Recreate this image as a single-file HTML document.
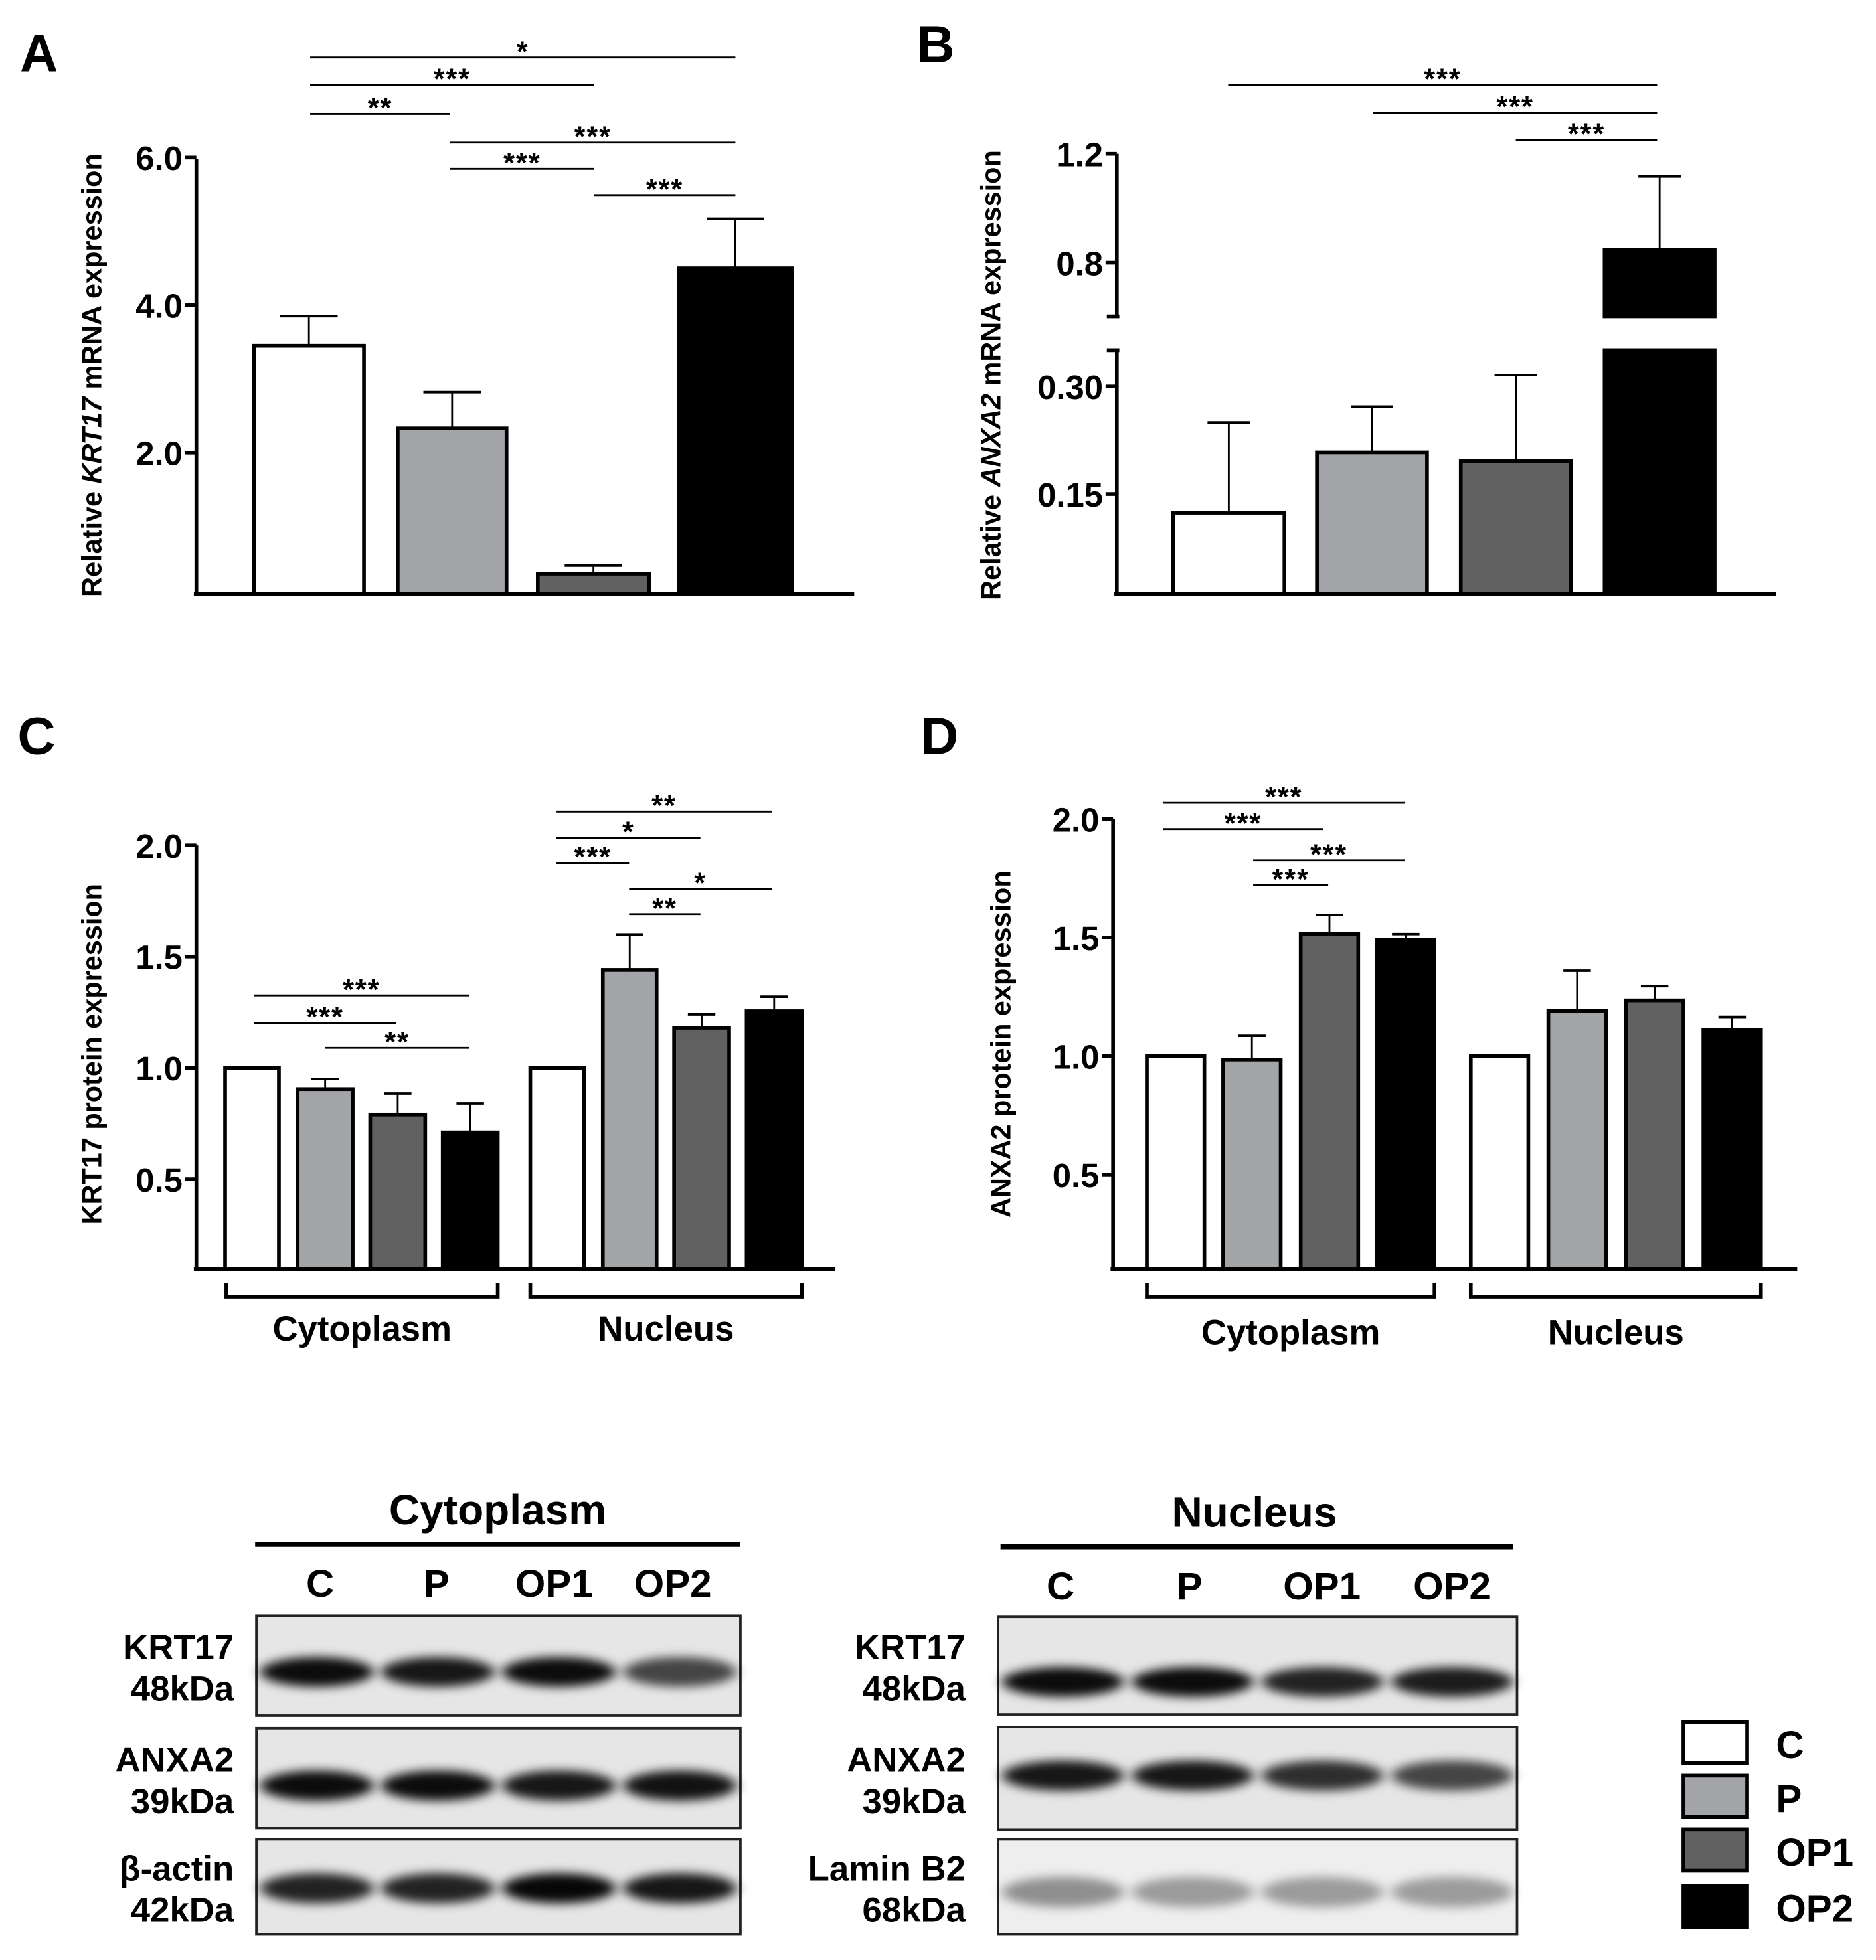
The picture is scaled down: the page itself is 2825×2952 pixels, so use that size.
<!DOCTYPE html>
<html><head><meta charset="utf-8"><style>
html,body{margin:0;padding:0;background:#fff}
svg{display:block}
text{font-family:"Liberation Sans",sans-serif;font-weight:bold;fill:#000}
.n{font-family:"Liberation Sans Narrow","Liberation Sans",sans-serif}
</style></head><body>
<svg id="fig" width="2825" height="2952" viewBox="0 0 1500 1567.4" xmlns="http://www.w3.org/2000/svg">
<defs><filter id="blur" x="-20%" y="-100%" width="140%" height="300%"><feGaussianBlur stdDeviation="5 4"/></filter></defs>
<g id="root"></g>
</svg>
<script>
// ---- data ----
const groupsAB = ["C","P","OP1","OP2"];
const fills = ["#ffffff","#a3a4a8","#616161","#000000"];
const aValues = [3.45, 2.33, 0.36, 4.5];
const aErrors = [0.40, 0.49, 0.11, 0.67];
const aTicks = [2.0, 4.0, 6.0];
const bValues = [0.124, 0.208, 0.196, 0.846];
const bErrors = [0.126, 0.064, 0.12, 0.271];
const bTicksLow = [0.15, 0.30];
const bTicksHigh = [0.8, 1.2];
const cCyto = [1.0, 0.905, 0.79, 0.71];
const cCytoErr = [0, 0.045, 0.095, 0.13];
const cNuc = [1.0, 1.44, 1.18, 1.255];
const cNucErr = [0, 0.16, 0.06, 0.065];
const cTicks = [0.5, 1.0, 1.5, 2.0];
const dCyto = [1.0, 0.985, 1.515, 1.49];
const dCytoErr = [0, 0.1, 0.08, 0.025];
const dNuc = [1.0, 1.19, 1.235, 1.11];
const dNucErr = [0, 0.17, 0.06, 0.055];
const dTicks = [0.5, 1.0, 1.5, 2.0];

const NS="http://www.w3.org/2000/svg";
const root=document.getElementById('root');
function el(tag,attrs,parent,txt){const e=document.createElementNS(NS,tag);for(const k in attrs)e.setAttribute(k,attrs[k]);if(txt!==undefined)e.textContent=txt;(parent||root).appendChild(e);return e;}
function line(x1,y1,x2,y2,w,p){return el('line',{x1,y1,x2,y2,stroke:'#000','stroke-width':w||1.5},p);}

function panelLetter(t,x,y){const e=el('text',{x,y,'font-size':42},root,t);

}

function bar(p,x0,x1,base,top,fill,name){const r=el('rect',{x:x0,y:top,width:x1-x0,height:base-top,fill,stroke:'#000','stroke-width':3},p);

return r;}
function err(p,xc,ytop,yerr,hw){line(xc,ytop,xc,yerr,1.5,p);line(xc-hw,yerr,xc+hw,yerr,2,p);}
function sig(p,x1,x2,y,stars){line(x1,y,x2,y,1.5,p);el('text',{x:(x1+x2)/2,y:y+3,'font-size':23,'text-anchor':'middle','font-weight':'normal','letter-spacing':'1'},p,stars);}
function ytick(p,ax,y,label,fs){line(ax-9,y,ax,y,3,p);const t=el('text',{x:ax-11,y:y+10,'font-size':fs||27,'text-anchor':'end','class':'n'},p,label);

}
function ylabel(p,x,y,parts){const t=el('text',{x,y,'font-size':22,'text-anchor':'middle',transform:`rotate(-90 ${x} ${y})`},p);
parts.forEach(([s,it])=>{const ts=el('tspan',it?{'font-style':'italic'}:{},t,s);});

}

// ---- Panel A ----
const gA=el('g',{});
panelLetter('A',16,57);
const yA=v=>480-59*v;
const aX=[[203,291],[318,405],[430,519],[543,633]];
aValues.forEach((v,i)=>{const [x0,x1]=aX[i];const xc=(x0+x1)/2;err(gA,xc,yA(v),yA(v+aErrors[i]),23);bar(gA,x0,x1,475,yA(v),fills[i],'bar-a-'+groupsAB[i].toLowerCase());});
line(157,127,157,476,3,gA);line(155,475,683,475,3.5,gA);
aTicks.forEach(t=>ytick(gA,157,yA(t),t.toFixed(1),27));
ylabel(gA,81,300,[["Relative "],["KRT17",1],[" mRNA expression"]]);
sig(gA,248,588,46,'*');sig(gA,248,475,68,'***');sig(gA,248,360,91,'**');sig(gA,360,588,114,'***');sig(gA,360,475,135,'***');sig(gA,475,588,156,'***');

// ---- Panel B ----
const gB=el('g',{});
panelLetter('B',733,50);
const yBL=v=>481-573*v;
const yBH=v=>210-217.5*(v-0.8);
const bX=[[938,1027],[1053,1141],[1168,1256],[1283,1371]];
bValues.forEach((v,i)=>{const [x0,x1]=bX[i];const xc=(x0+x1)/2;const top=v>0.34?yBH(v):yBL(v);const e=v+bErrors[i];const ey=e>0.34?yBH(e):yBL(e);
err(gB,xc,top,ey,17);
if(v>0.34){bar(gB,x0,x1,253,top,fills[i],'bar-b-'+groupsAB[i].toLowerCase()+'-upper');bar(gB,x0,x1,475,280,fills[i],'bar-b-'+groupsAB[i].toLowerCase()+'-lower');}
else bar(gB,x0,x1,475,top,fills[i],'bar-b-'+groupsAB[i].toLowerCase());});
line(893,123,893,253,3,gB);line(885,253,895,253,3,gB);line(885,280,895,280,3,gB);line(893,280,893,476,3,gB);line(891,475,1420,475,3.5,gB);
bTicksHigh.forEach(t=>ytick(gB,893,yBH(t),t.toFixed(1),27));
bTicksLow.forEach(t=>ytick(gB,893,yBL(t),t.toFixed(2),27));
ylabel(gB,800,300,[["Relative "],["ANXA2",1],[" mRNA expression"]]);
sig(gB,982,1325,68,'***');sig(gB,1098,1325,90,'***');sig(gB,1212,1325,112,'***');

// ---- grouped panels C & D ----
function grouped(g,ax,axEnd,yf,cyto,cytoE,nuc,nucE,cx,nx,ticks,br,name){
  [[cyto,cytoE,cx,'cytoplasm'],[nuc,nucE,nx,'nucleus']].forEach(([vals,errs,xs,gn])=>{
    vals.forEach((v,i)=>{const [x0,x1]=xs[i];const xc=(x0+x1)/2;if(errs[i]>0)err(g,xc,yf(v),yf(v+errs[i]),11);bar(g,x0,x1,1015,yf(v),fills[i],'bar-'+name+'-'+gn+'-'+groupsAB[i].toLowerCase());});
  });
  line(ax,yf(2.0),ax,1016,3,g);line(ax-2,1015,axEnd,1015,3.5,g);
  ticks.forEach(t=>ytick(g,ax,yf(t),t.toFixed(1),27));
  br.forEach(([x0,x1,lab,ly])=>{el('polyline',{points:`${x0},1026 ${x0},1037 ${x1},1037 ${x1},1026`,fill:'none',stroke:'#000','stroke-width':3},g);
   const t=el('text',{x:(x0+x1)/2,y:ly,'font-size':28,'text-anchor':'middle','class':'n'},g,lab);
   
   });
}
const gC=el('g',{});
panelLetter('C',14,603);
const yC=v=>1032-178*v;
grouped(gC,157,668,yC,cCyto,cCytoErr,cNuc,cNucErr,[[180,223],[238,282],[296,340],[354,398]],[[424,467],[482,525],[539,583],[597,641]],cTicks,[[181,398,'Cytoplasm',1072],[424,641,'Nucleus',1072]],'c');
ylabel(gC,81,843,[["KRT17 protein expression"]]);
sig(gC,203,375,796,'***');sig(gC,203,317,818,'***');sig(gC,260,375,838,'**');
sig(gC,445,617,649,'**');sig(gC,445,560,670,'*');sig(gC,445,503,690,'***');sig(gC,503,617,711,'*');sig(gC,503,560,731,'**');

const gD=el('g',{});
panelLetter('D',736,603);
const yD=v=>1034-189.5*v;
grouped(gD,890,1437,yD,dCyto,dCytoErr,dNuc,dNucErr,[[917,963],[978,1024],[1040,1086],[1101,1147]],[[1176,1222],[1238,1284],[1300,1346],[1362,1408]],dTicks,[[917,1147,'Cytoplasm',1075],[1176,1408,'Nucleus',1075]],'d');
ylabel(gD,808,835,[["ANXA2 protein expression"]]);
sig(gD,930,1123,642,'***');sig(gD,930,1058,663,'***');sig(gD,1002,1123,688,'***');sig(gD,1002,1062,708,'***');

// ---- Western blots ----
function blot(title,tx,ty,lx0,lx1,ly,laneX,laneY,boxX0,boxX1,rows,labX,name){
  const g=el('g',{});
  const t=el('text',{x:tx,y:ty,'font-size':34,'text-anchor':'middle','class':'n'},g,title);
  
  line(lx0,ly,lx1,ly,4,g);
  ['C','P','OP1','OP2'].forEach((l,i)=>el('text',{x:laneX[i],y:laneY,'font-size':31,'text-anchor':'middle','class':'n'},g,l));
  rows.forEach(([y0,y1,l1,l2,by,dark,bg])=>{
    el('rect',{x:boxX0,y:y0,width:boxX1-boxX0,height:y1-y0,fill:bg||'#e6e6e6',stroke:'#222','stroke-width':2},g);
    const w=(boxX1-boxX0)/4;
    dark.forEach((d,i)=>el('ellipse',{cx:boxX0+w*(i+0.5),cy:by,rx:w*0.47,ry:12,fill:`rgba(0,0,0,${d})`,filter:'url(#blur)'},g));
    el('text',{x:labX,y:(y0+y1)/2-5,'font-size':28,'text-anchor':'end','class':'n'},g,l1);
    el('text',{x:labX,y:(y0+y1)/2+28,'font-size':28,'text-anchor':'end','class':'n'},g,l2);
  });
}
blot('Cytoplasm',398,1219,204,592,1235,[256,349,443,538],1277,205,592,
 [[1292,1372,'KRT17','48kDa',1337,[0.95,0.9,0.95,0.7]],[1382,1462,'ANXA2','39kDa',1428,[0.95,0.95,0.9,0.92]],[1471,1547,'β-actin','42kDa',1510,[0.85,0.85,0.97,0.9]]],187,'cytoplasm-blot');
blot('Nucleus',1003,1221,800,1210,1237,[848,951,1057,1161],1279,798,1213,
 [[1293,1371,'KRT17','48kDa',1345,[0.95,0.95,0.85,0.88]],[1381,1463,'ANXA2','39kDa',1420,[0.9,0.9,0.8,0.7]],[1471,1547,'Lamin B2','68kDa',1513,[0.4,0.35,0.35,0.35],'#eeeeee']],772,'nucleus-blot');

// ---- legend ----
const gL=el('g',{});
const legY=[1377,1420,1463,1508];
groupsAB.forEach((gname,i)=>{const r=el('rect',{x:1346,y:legY[i],width:51,height:33,fill:fills[i],stroke:'#000','stroke-width':3},gL);


const t=el('text',{x:1420,y:legY[i]+29,'font-size':31,'class':'n'},gL,gname);

});
</script>
</body></html>
